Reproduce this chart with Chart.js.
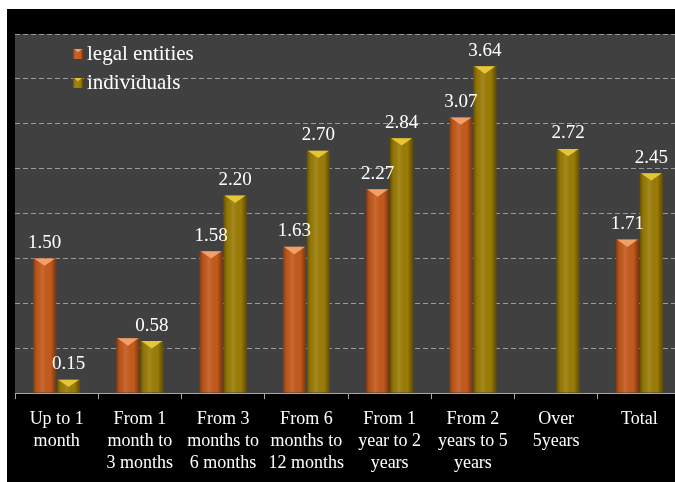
<!DOCTYPE html>
<html>
<head>
<meta charset="utf-8">
<script src="https://cdn.jsdelivr.net/npm/chart.js@4.4.0/dist/chart.umd.min.js"></script>
<style>
  html, body { margin: 0; padding: 0; background: #fff; overflow: hidden; }
  #barChart { position: absolute; left: 7px; top: 9px; background: #000; }
  .preload { font-family: "Liberation Serif"; position: absolute; left: -999px; }
</style>
</head>
<body>
<span class="preload">legal entities 0123456789</span>
<canvas id="barChart" width="674" height="476"></canvas>
<script>
const categories = [
  ["Up to 1", "month"],
  ["From 1", "month to", "3 months"],
  ["From 3", "months to", "6 months"],
  ["From 6", "months to", "12 months"],
  ["From 1", "year to 2", "years"],
  ["From 2", "years to 5", "years"],
  ["Over", "5years"],
  ["Total"],
];
const legal_values = [1.5, 0.61, 1.58, 1.63, 2.27, 3.07, null, 1.71];
const individual_values = [0.15, 0.58, 2.2, 2.7, 2.84, 3.64, 2.72, 2.45];
// the 1-3 months legal bar has no label in the original
const legal_labels = ["1.50", "", "1.58", "1.63", "2.27", "3.07", "", "1.71"];
const individual_labels = ["0.15", "0.58", "2.20", "2.70", "2.84", "3.64", "2.72", "2.45"];

const serif = "'Liberation Serif'";
const bar_colors = {
  legal: { base: "#c45a1c", top: "#f2a06a" },
  individuals: { base: "#9a7c06", top: "#e6c636" },
};

// shade a box like the 3D cylinder bars: dark edges, light top cone
const shadeBox = (ctx, left, top, right, bottom, c) => {
  const w = right - left;
  const g = ctx.createLinearGradient(left, 0, right, 0);
  g.addColorStop(0, "rgba(0,0,0,0.35)");
  g.addColorStop(0.15, "rgba(0,0,0,0.05)");
  g.addColorStop(0.4, "rgba(255,255,255,0.10)");
  g.addColorStop(0.75, "rgba(0,0,0,0.0)");
  g.addColorStop(1, "rgba(0,0,0,0.4)");
  ctx.fillStyle = g;
  ctx.fillRect(left, top, w, bottom - top);
  const depth = Math.min(w * 0.32, bottom - top);
  ctx.fillStyle = c.top;
  ctx.beginPath();
  ctx.moveTo(left + 1, top);
  ctx.lineTo(right - 1, top);
  ctx.lineTo(left + w / 2, top + depth);
  ctx.closePath();
  ctx.fill();
};

const plotBackground = {
  id: "plotBackground",
  beforeDraw(chart) {
    const { ctx, chartArea: a } = chart;
    ctx.save();
    ctx.fillStyle = "#404040";
    ctx.fillRect(a.left, a.top, a.right - a.left, a.bottom - a.top);
    ctx.restore();
  },
};

const barShading = {
  id: "barShading",
  afterDatasetsDraw(chart) {
    const ctx = chart.ctx;
    const keys = ["legal", "individuals"];
    ctx.save();
    chart.data.datasets.forEach((ds, i) => {
      chart.getDatasetMeta(i).data.forEach((bar, j) => {
        if (ds.data[j] == null) return;
        const p = bar.getProps(["x", "y", "base", "width"], true);
        shadeBox(ctx, p.x - p.width / 2, p.y, p.x + p.width / 2, p.base, bar_colors[keys[i]]);
      });
    });
    ctx.restore();
  },
};

const valueLabels = {
  id: "valueLabels",
  afterDatasetsDraw(chart) {
    const ctx = chart.ctx;
    const texts = [legal_labels, individual_labels];
    ctx.save();
    ctx.font = "19px " + serif;
    ctx.fillStyle = "#ffffff";
    ctx.textAlign = "center";
    ctx.textBaseline = "bottom";
    chart.data.datasets.forEach((ds, i) => {
      chart.getDatasetMeta(i).data.forEach((bar, j) => {
        if (ds.data[j] == null || !texts[i][j]) return;
        ctx.fillText(texts[i][j], bar.x, bar.y - 6);
      });
    });
    ctx.restore();
  },
};

const insideLegend = {
  id: "insideLegend",
  afterDraw(chart) {
    const { ctx, chartArea: a } = chart;
    const keys = ["legal", "individuals"];
    ctx.save();
    ctx.font = "21px " + serif;
    ctx.textBaseline = "middle";
    chart.data.datasets.forEach((ds, i) => {
      const mx = a.left + 58;
      const my = a.top + 15 + i * 29;
      const c = bar_colors[keys[i]];
      ctx.fillStyle = c.base;
      ctx.fillRect(mx, my, 10, 10);
      shadeBox(ctx, mx, my, mx + 10, my + 10, c);
      ctx.fillStyle = "#ffffff";
      ctx.fillText(ds.label, mx + 14, my + 5);
    });
    ctx.restore();
  },
};

const makeGraph = () => {
  const chart_ctx = document.getElementById("barChart");
  const data = {
    labels: categories,
    datasets: [
      {
        label: "legal entities",
        backgroundColor: bar_colors.legal.base,
        data: legal_values,
      },
      {
        label: "individuals",
        backgroundColor: bar_colors.individuals.base,
        data: individual_values,
      },
    ],
  };
  const config = {
    type: "bar",
    data,
    options: {
      responsive: false,
      animation: false,
      devicePixelRatio: 1,
      categoryPercentage: 0.575,
      barPercentage: 0.96,
      layout: { padding: { left: 8, top: 25, right: 0, bottom: 2 } },
      plugins: {
        legend: { display: false },
        tooltip: { enabled: false },
      },
      scales: {
        x: {
          grid: {
            offset: true,
            drawOnChartArea: false,
            drawTicks: true,
            tickLength: 6,
            color: "#a6a6a6",
          },
          border: { display: true, color: "#a6a6a6", width: 1 },
          ticks: {
            color: "#ffffff",
            font: { family: serif, size: 18, lineHeight: 1.22 },
            padding: 9,
            maxRotation: 0,
            autoSkip: false,
          },
        },
        y: {
          min: 0,
          max: 4,
          ticks: { display: false, stepSize: 0.5 },
          grid: { color: "#999999", drawTicks: false, lineWidth: 1 },
          border: { display: false, dash: [5, 3] },
        },
      },
    },
    plugins: [plotBackground, barShading, valueLabels, insideLegend],
  };
  return new Chart(chart_ctx, config);
};

document.fonts.load("18px 'Liberation Serif'").then(makeGraph, makeGraph);
</script>
</body>
</html>
